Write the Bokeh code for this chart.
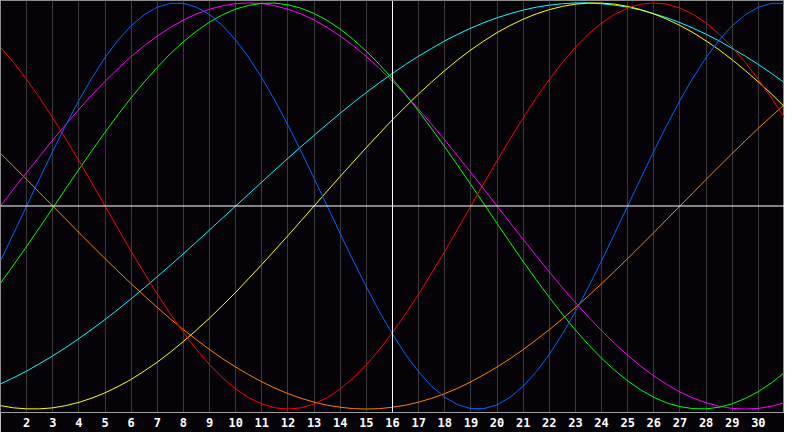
from bokeh.plotting import figure
from bokeh.models import Range1d, FixedTicker, Span
from bokeh.embed import file_html
from bokeh.resources import INLINE

days = [1, 1.5, 2, 2.5, 3, 3.5, 4, 4.5, 5, 5.5, 6, 6.5, 7, 7.5, 8, 8.5, 9, 9.5, 10, 10.5,
        11, 11.5, 12, 12.5, 13, 13.5, 14, 14.5, 15, 15.5, 16, 16.5, 17, 17.5, 18, 18.5, 19, 19.5, 20, 20.5,
        21, 21.5, 22, 22.5, 23, 23.5, 24, 24.5, 25, 25.5, 26, 26.5, 27, 27.5, 28, 28.5, 29, 29.5, 30, 30.5, 31]
tick_days = [2, 3, 4, 5, 6, 7, 8, 9, 10, 11, 12, 13, 14, 15, 16, 17, 18, 19, 20, 21,
             22, 23, 24, 25, 26, 27, 28, 29, 30]

physical = [-0.270, -0.136, 0.000, 0.136, 0.270, 0.398, 0.520, 0.631, 0.731, 0.817,
            0.888, 0.942, 0.979, 0.998, 0.998, 0.979, 0.942, 0.888, 0.817, 0.731,
            0.631, 0.520, 0.398, 0.270, 0.136, 0.000, -0.136, -0.270, -0.398, -0.520,
            -0.631, -0.731, -0.817, -0.888, -0.942, -0.979, -0.998, -0.998, -0.979, -0.942,
            -0.888, -0.817, -0.731, -0.631, -0.520, -0.398, -0.270, -0.136, 0.000, 0.136,
            0.270, 0.398, 0.520, 0.631, 0.731, 0.817, 0.888, 0.942, 0.979, 0.998, 0.998]
emotional = [0.782, 0.707, 0.623, 0.532, 0.434, 0.330, 0.223, 0.112, 0.000, -0.112,
             -0.223, -0.330, -0.434, -0.532, -0.623, -0.707, -0.782, -0.847, -0.901, -0.944,
             -0.975, -0.994, -1.000, -0.994, -0.975, -0.944, -0.901, -0.847, -0.782, -0.707,
             -0.623, -0.532, -0.434, -0.330, -0.223, -0.112, 0.000, 0.112, 0.223, 0.330,
             0.434, 0.532, 0.623, 0.707, 0.782, 0.847, 0.901, 0.944, 0.975, 0.994,
             1.000, 0.994, 0.975, 0.944, 0.901, 0.847, 0.782, 0.707, 0.623, 0.532, 0.434]
intellectual = [-0.380, -0.291, -0.199, -0.105, -0.010, 0.086, 0.180, 0.273, 0.363, 0.450,
                0.533, 0.611, 0.683, 0.750, 0.809, 0.861, 0.906, 0.942, 0.970, 0.988,
                0.998, 0.999, 0.991, 0.974, 0.948, 0.914, 0.871, 0.820, 0.762, 0.697,
                0.626, 0.549, 0.467, 0.380, 0.291, 0.199, 0.105, 0.010, -0.086, -0.180,
                -0.273, -0.363, -0.450, -0.533, -0.611, -0.683, -0.750, -0.809, -0.861, -0.906,
                -0.942, -0.970, -0.988, -0.998, -0.999, -0.991, -0.974, -0.948, -0.914, -0.871, -0.820]
intuitive = [0.000, 0.083, 0.165, 0.245, 0.325, 0.402, 0.476, 0.547, 0.614, 0.677,
             0.736, 0.789, 0.837, 0.879, 0.916, 0.946, 0.969, 0.986, 0.997, 1.000,
             0.997, 0.986, 0.969, 0.946, 0.916, 0.879, 0.837, 0.789, 0.736, 0.677,
             0.614, 0.547, 0.476, 0.402, 0.325, 0.245, 0.165, 0.083, 0.000, -0.083,
             -0.165, -0.245, -0.325, -0.402, -0.476, -0.547, -0.614, -0.677, -0.736, -0.789,
             -0.837, -0.879, -0.916, -0.946, -0.969, -0.986, -0.997, -1.000, -0.997, -0.986, -0.969]
spiritual = [-0.876, -0.846, -0.813, -0.776, -0.738, -0.697, -0.653, -0.607, -0.559, -0.509,
             -0.457, -0.403, -0.348, -0.292, -0.235, -0.177, -0.118, -0.059, 0.000, 0.059,
             0.118, 0.177, 0.235, 0.292, 0.348, 0.403, 0.457, 0.509, 0.559, 0.607,
             0.653, 0.697, 0.738, 0.776, 0.813, 0.846, 0.876, 0.903, 0.927, 0.947,
             0.965, 0.979, 0.989, 0.996, 1.000, 1.000, 0.996, 0.989, 0.979, 0.965,
             0.947, 0.927, 0.903, 0.876, 0.846, 0.813, 0.776, 0.738, 0.697, 0.653, 0.607]
aesthetic = [-0.983, -0.994, -0.999, -0.999, -0.994, -0.983, -0.967, -0.946, -0.920, -0.889,
             -0.854, -0.813, -0.769, -0.720, -0.667, -0.611, -0.552, -0.489, -0.425, -0.357,
             -0.288, -0.217, -0.146, -0.073, 0.000, 0.073, 0.146, 0.217, 0.288, 0.357,
             0.425, 0.489, 0.552, 0.611, 0.667, 0.720, 0.769, 0.813, 0.854, 0.889,
             0.920, 0.946, 0.967, 0.983, 0.994, 0.999, 0.999, 0.994, 0.983, 0.967,
             0.946, 0.920, 0.889, 0.854, 0.813, 0.769, 0.720, 0.667, 0.611, 0.552, 0.489]
awareness = [0.259, 0.195, 0.131, 0.065, 0.000, -0.065, -0.131, -0.195, -0.259, -0.321,
             -0.383, -0.442, -0.500, -0.556, -0.609, -0.659, -0.707, -0.752, -0.793, -0.831,
             -0.866, -0.897, -0.924, -0.947, -0.966, -0.981, -0.991, -0.998, -1.000, -0.998,
             -0.991, -0.981, -0.966, -0.947, -0.924, -0.897, -0.866, -0.831, -0.793, -0.752,
             -0.707, -0.659, -0.609, -0.556, -0.500, -0.442, -0.383, -0.321, -0.259, -0.195,
             -0.131, -0.065, 0.000, 0.065, 0.131, 0.195, 0.259, 0.321, 0.383, 0.442, 0.500]

series = [
    (awareness, "#ff8000"),
    (spiritual, "#00ffff"),
    (aesthetic, "#ffff00"),
    (intuitive, "#ff00ff"),
    (intellectual, "#00ff00"),
    (emotional, "#ff0000"),
    (physical, "#0066ff"),
]

BG = "#050308"
p = figure(width=784, height=432, output_backend="svg", toolbar_location=None,
           x_range=Range1d(1, 31), y_range=Range1d(-1.017, 1.012),
           min_border=0, min_border_bottom=20,
           background_fill_color=BG, border_fill_color=BG)
p.outline_line_color = "#8c8c8c"
p.yaxis.visible = False
p.ygrid.visible = False
p.xaxis.ticker = FixedTicker(ticks=tick_days)
p.xgrid.grid_line_color = "#3a3a3a"
p.xgrid.grid_line_width = 1
p.xaxis.axis_line_color = "#a0a0a0"
p.xaxis.major_tick_line_color = None
p.xaxis.minor_tick_line_color = None
p.xaxis.major_tick_out = 0
p.xaxis.major_tick_in = 0
p.xaxis.major_label_standoff = 5
p.xaxis.major_label_text_color = "#ffffff"
p.xaxis.major_label_text_font = "DejaVu Sans Mono"
p.xaxis.major_label_text_font_style = "bold"
p.xaxis.major_label_text_font_size = "12px"

p.add_layout(Span(location=16, dimension="height", line_color="#ffffff", line_width=1))
p.add_layout(Span(location=0, dimension="width", line_color="#ffffff", line_width=1))

for vals, col in series:
    p.line(days, vals, line_color=col, line_width=1)

open("out.html", "w").write(file_html(p, INLINE))
